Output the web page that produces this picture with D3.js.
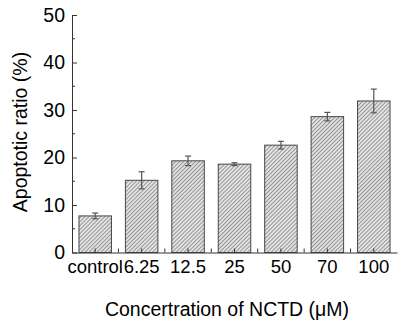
<!DOCTYPE html>
<html>
<head>
<meta charset="utf-8">
<script src="https://cdn.jsdelivr.net/npm/d3@7"></script>
<style>
  body { margin: 0; background: #fff; }
  text { font-family: "Liberation Sans", Arial, sans-serif; fill: #000; }
</style>
</head>
<body>
<div id="chart"></div>
<script>
const categories = ["control", "6.25", "12.5", "25", "50", "70", "100"];
const values = [7.7, 15.2, 19.3, 18.6, 22.6, 28.6, 31.9];
const errors = [0.6, 1.8, 1.0, 0.3, 0.8, 0.9, 2.5];
const yTicks = [0, 10, 20, 30, 40, 50];

const width = 398, height = 323;
const margin = { left: 72, right: 1, top: 15, bottom: 70 };

let svg = d3.select("#chart").append("svg")
  .attr("width", width)
  .attr("height", height);

// hatch pattern for bars
let pat = svg.append("defs").append("pattern")
  .attr("id", "hatch")
  .attr("patternUnits", "userSpaceOnUse")
  .attr("width", 2.8)
  .attr("height", 2.8)
  .attr("patternTransform", "rotate(45)");
pat.append("rect").attr("width", 2.8).attr("height", 2.8).attr("fill", "#e2e2e2");
pat.append("line")
  .attr("x1", 0).attr("y1", 0).attr("x2", 0).attr("y2", 2.8)
  .attr("stroke", "#5a5a5a").attr("stroke-width", 1.1);

let x = d3.scaleBand()
  .domain(categories)
  .range([margin.left, width - margin.right])
  .paddingInner(0.3)
  .paddingOuter(0.15);

let y = d3.scaleLinear()
  .domain([0, 50])
  .range([252.5, margin.top]);

// bars
svg.selectAll(".bar")
  .data(categories)
  .enter()
  .append("rect")
  .attr("class", "bar")
  .attr("x", d => x(d))
  .attr("width", x.bandwidth())
  .attr("y", (d, i) => y(values[i]))
  .attr("height", (d, i) => y(0) - y(values[i]))
  .attr("fill", "url(#hatch)")
  .attr("stroke", "#484848")
  .attr("stroke-width", 1);

// error bars
let eb = svg.selectAll(".err")
  .data(categories)
  .enter()
  .append("g")
  .attr("class", "err")
  .attr("stroke", "#555")
  .attr("stroke-width", 1.2);
eb.append("line")
  .attr("x1", d => x(d) + x.bandwidth() / 2)
  .attr("x2", d => x(d) + x.bandwidth() / 2)
  .attr("y1", (d, i) => y(values[i] + errors[i]))
  .attr("y2", (d, i) => y(values[i] - errors[i]));
[1, -1].forEach(s => {
  eb.append("line")
    .attr("x1", d => x(d) + x.bandwidth() / 2 - 3)
    .attr("x2", d => x(d) + x.bandwidth() / 2 + 3)
    .attr("y1", (d, i) => y(values[i] + s * errors[i]))
    .attr("y2", (d, i) => y(values[i] + s * errors[i]));
});

// y axis
let yAxis = svg.append("g")
  .attr("transform", `translate(${margin.left},0)`)
  .call(d3.axisLeft(y).tickValues(yTicks).tickSize(-5).tickSizeOuter(0).tickPadding(7))
  .call(g => g.selectAll("text").style("font-size", "19.5px"))
  .call(g => g.selectAll("line, path").attr("stroke", "#333"));
yAxis.selectAll(".minor")
  .data(d3.range(5, 50, 10))
  .enter()
  .append("line")
  .attr("class", "minor")
  .attr("x1", 0).attr("x2", 3)
  .attr("y1", d => y(d)).attr("y2", d => y(d))
  .attr("stroke", "#333");

// x axis
let xAxis = svg.append("g")
  .attr("transform", `translate(0,${y(0)})`)
  .call(d3.axisBottom(x).tickSize(-4).tickSizeOuter(0).tickPadding(7))
  .call(g => g.selectAll("text").style("font-size", "18.5px"))
  .call(g => g.selectAll("line, path").attr("stroke", "#333"));
let step = x.step();
xAxis.selectAll(".between")
  .data(categories.slice(1))
  .enter()
  .append("line")
  .attr("class", "between")
  .attr("x1", d => x(d) - step * x.paddingInner() / 2)
  .attr("x2", d => x(d) - step * x.paddingInner() / 2)
  .attr("y1", 0).attr("y2", -4)
  .attr("stroke", "#333");

// axis titles
svg.append("text")
  .attr("x", 227)
  .attr("y", 316)
  .attr("text-anchor", "middle")
  .style("font-size", "19.5px")
  .text("Concertration of NCTD (μM)");

svg.append("text")
  .attr("transform", "translate(27,132) rotate(-90)")
  .attr("text-anchor", "middle")
  .style("font-size", "19.5px")
  .text("Apoptotic ratio (%)");
</script>
</body>
</html>
